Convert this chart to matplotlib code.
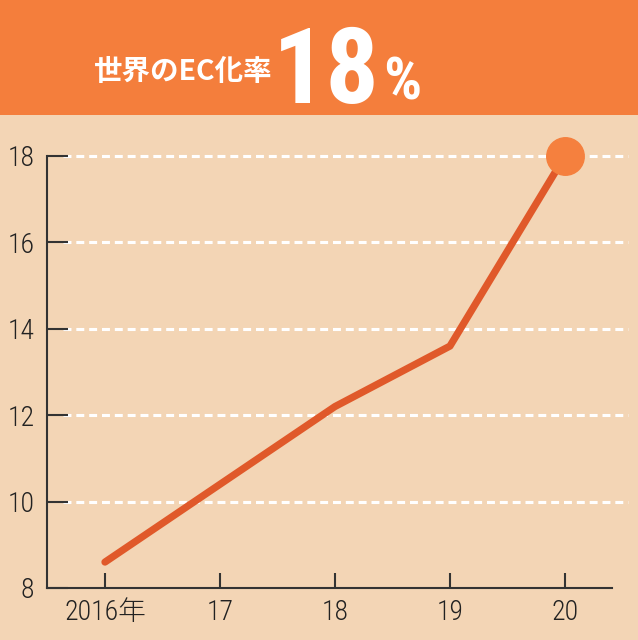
import matplotlib
matplotlib.use("Agg")
import matplotlib.pyplot as plt

# data
years = ["2016年", "17", "18", "19", "20"]
ec_rate = [8.6, 10.4, 12.2, 13.6, 18.0]
yticks = [8, 10, 12, 14, 16, 18]

bg = "#f3d5b5"
header = "#f47e3c"
line_c = "#e0592a"
dot_c = "#f5803e"
dark = "#333333"
narrow = ["Roboto Condensed", "Archivo Narrow", "Noto Sans CJK JP", "DejaVu Sans"]

fig = plt.figure(figsize=(6.38, 6.40), dpi=100, facecolor=bg)

# header band
hd = fig.add_axes([0, 1 - 115 / 640, 1, 115 / 640])
hd.set_facecolor(header)
hd.set_xticks([]); hd.set_yticks([])
for s in hd.spines.values():
    s.set_visible(False)
hd.set_xlim(0, 638); hd.set_ylim(115, 0)
hd.text(273, 80, "世界のEC化率", color="white", fontsize=20.5, fontweight="bold",
        family=["Noto Sans CJK JP"], ha="right", va="baseline")
hd.text(380, 103, "18", color="white", fontsize=76, fontweight="bold",
        family=narrow, ha="right", va="baseline")
hd.text(383, 100, "%", color="white", fontsize=43, fontweight="bold",
        family=narrow, ha="left", va="baseline")

# chart
ax = fig.add_axes([47 / 638, 52 / 640, 565 / 638, 432 / 640])
ax.set_facecolor(bg)
x = list(range(len(years)))
ax.plot(x, ec_rate, color=line_c, lw=5.2, solid_capstyle="round", clip_on=False, zorder=3)
ax.plot(x[-1], ec_rate[-1], "o", ms=27, color=dot_c, clip_on=False, zorder=4)

ax.set_xlim(-0.504, 4.409)
ax.set_ylim(8, 18)
ax.set_xticks(x)
ax.set_xticklabels(years, family=narrow, fontsize=20, fontweight="light", color="#222222")
ax.set_yticks(yticks)
ax.set_yticklabels([str(v) for v in yticks], family=narrow, fontsize=20,
                   fontweight="light", color="#222222")
ax.tick_params(axis="y", direction="in", length=15, width=1.5, color=dark, pad=9)
ax.tick_params(axis="x", direction="in", length=11, width=1.5, color=dark, pad=8)

# dashed white gridlines, starting after the tick marks
for v in yticks[1:]:
    ax.plot([16 / 115 - 0.504, 4.548], [v, v], color="white", lw=2.2,
            dashes=(2.6, 1.6), clip_on=False, zorder=1)

for s in ["top", "right"]:
    ax.spines[s].set_visible(False)
for s in ["left", "bottom"]:
    ax.spines[s].set_color(dark)
    ax.spines[s].set_linewidth(1.5)

fig.savefig("out.png", dpi=100, facecolor=bg)
